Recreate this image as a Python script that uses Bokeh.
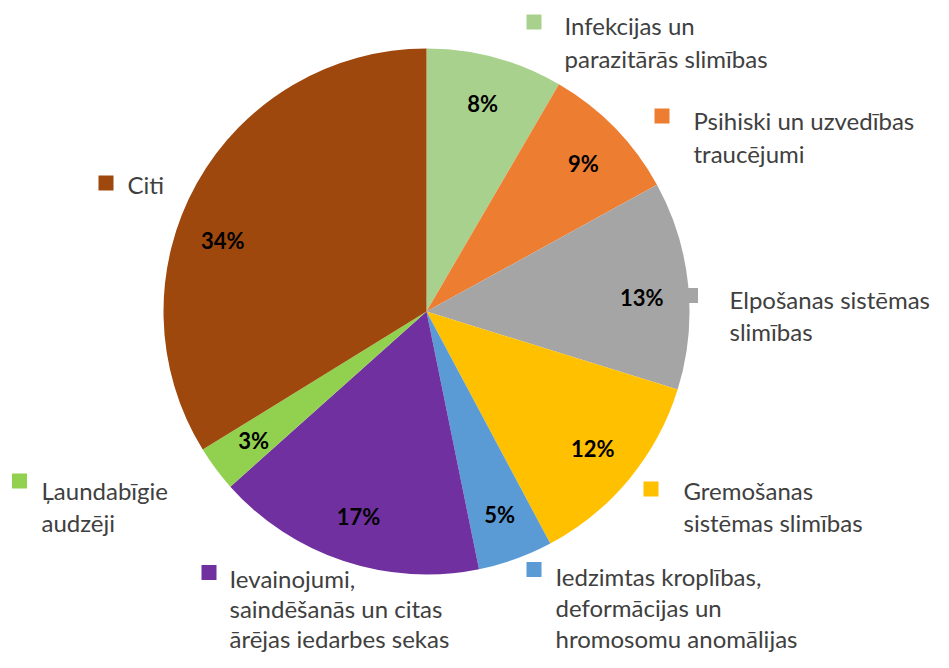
import math
from bokeh.plotting import figure
from bokeh.models import Range1d, ColumnDataSource
from bokeh.core.properties import value
from bokeh.embed import file_html
from bokeh.resources import INLINE

# ---- data ----
categories = [
    "Infekcijas un\nparazitārās slimības",
    "Psihiski un uzvedības\ntraucējumi",
    "Elpošanas sistēmas\nslimības",
    "Gremošanas\nsistēmas slimības",
    "Iedzimtas kroplības,\ndeformācijas un\nhromosomu anomālijas",
    "Ievainojumi,\nsaindēšanās un citas\nārējas iedarbes sekas",
    "Ļaundabīgie\naudzēji",
    "Citi",
]
shares = [8.4, 8.6, 12.8, 12.4, 4.6, 16.6, 2.8, 33.8]
colors = ["#A9D18E", "#ED7D31", "#A5A5A5", "#FFC000", "#5B9BD5", "#7030A0", "#92D050", "#9E480E"]

# ---- layout (picture pixel coordinates, origin top-left of the figure) ----
W, H = 933, 652
CX, CY, R = 426, 311, 263
# label anchors: (square x, square y, text x, first line y, line height)
label_layout = [
    (533.5, 21.5, 564, 25, 32.5),
    (661.5, 115.5, 693, 120, 33.0),
    (690.0, 295.0, 729, 299, 32.0),
    (650.5, 488.5, 683, 490, 32.0),
    (533.5, 569.0, 555, 576, 31.0),
    (208.5, 572.0, 229, 578, 30.0),
    (19.0, 480.5, 41, 490, 32.0),
    (105.5, 182.5, 127, 184, 32.0),
]
pct_radius = 0.82
pct_angle_shift_deg = [0, 1, 2, 0, 0, 0, 0, -10]

def fy(py):
    return H - py

p = figure(width=W, height=H, output_backend="svg", toolbar_location=None,
           x_range=Range1d(0, W), y_range=Range1d(0, H), min_border=0)
p.axis.visible = False
p.grid.visible = False
p.outline_line_color = None
p.background_fill_color = "white"

total = sum(shares)
starts, ends, mids = [], [], []
acc = 0.0
for v in shares:
    a0 = math.pi / 2 - 2 * math.pi * acc / total
    acc += v
    a1 = math.pi / 2 - 2 * math.pi * acc / total
    starts.append(a0)
    ends.append(a1)
    mids.append((a0 + a1) / 2)

src = ColumnDataSource(dict(start=starts, end=ends, color=colors))
p.wedge(x=CX, y=fy(CY), radius=R, start_angle="start", end_angle="end",
        direction="clock", fill_color="color", line_color=None, source=src)

# percent labels
la = [m - math.radians(s) for m, s in zip(mids, pct_angle_shift_deg)]
lx = [CX + pct_radius * R * math.cos(a) for a in la]
ly = [fy(CY) + pct_radius * R * math.sin(a) for a in la]
pct = [f"{round(v / total * 100)}%" for v in shares]
p.text(x=lx, y=ly, text=pct, text_align="center", text_baseline="middle",
       text_font=value("Lato"), text_font_style="bold", text_font_size="22px",
       text_color="black")

# category labels with colour squares
sq_x = [l[0] for l in label_layout]
sq_y = [fy(l[1]) for l in label_layout]
p.scatter(x=sq_x, y=sq_y, marker="square", size=15, fill_color=colors, line_color=None)

tx, ty, tt = [], [], []
for cat, l in zip(categories, label_layout):
    for i, line in enumerate(cat.split("\n")):
        tx.append(l[2])
        ty.append(fy(l[3] + i * l[4]))
        tt.append(line)
p.text(x=tx, y=ty, text=tt, text_align="left", text_baseline="middle",
       text_font=value("Lato"), text_font_size="24px", text_color="#404040")

open("out.html", "w").write(file_html(p, INLINE))
